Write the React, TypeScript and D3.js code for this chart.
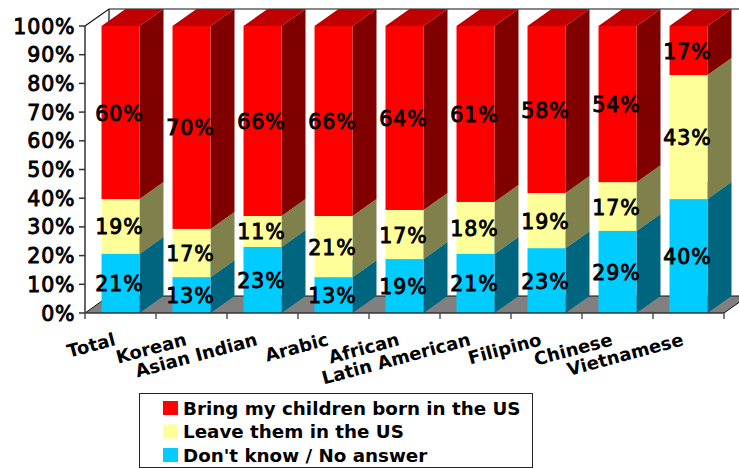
import React from 'react';
import * as d3 from 'd3';

const categories = ['Total', 'Korean', 'Asian Indian', 'Arabic', 'African', 'Latin American', 'Filipino', 'Chinese', 'Vietnamese'];

// bar heights, in percent
const dontKnow = [20.6, 12.5, 23, 12.5, 18.8, 20.6, 22.6, 28.6, 39.7];
const leave = [19.1, 16.8, 10.8, 21.3, 17.1, 18.1, 19.2, 17, 43.2];
const bring = [60.3, 70.7, 66.2, 66.2, 64.1, 61.3, 58.2, 54.4, 17.1];

// printed labels
const dontKnowLabels = [21, 13, 23, 13, 19, 21, 23, 29, 40];
const leaveLabels = [19, 17, 11, 21, 17, 18, 19, 17, 43];
const bringLabels = [60, 70, 66, 66, 64, 61, 58, 54, 17];

const yTicks = [0, 10, 20, 30, 40, 50, 60, 70, 80, 90, 100];

const legendItems = ['Bring my children born in the US', 'Leave them in the US', "Don't know / No answer"];

const width = 739;
const height = 468;
const depthX = 24;
const depthY = 17;
const font = '"DejaVu Sans", Verdana, sans-serif';

const series = [
  { key: 'dontKnow', values: dontKnow, labels: dontKnowLabels, front: '#00ccff', side: '#006680', top: '#00a3cc' },
  { key: 'leave', values: leave, labels: leaveLabels, front: '#ffff99', side: '#80804d', top: '#cccc7a' },
  { key: 'bring', values: bring, labels: bringLabels, front: '#ff0000', side: '#800000', top: '#c00000' },
];

// the percent labels are a semi-bold Verdana in the original
const percentText = {
  fontFamily: font,
  fontSize: 20.5,
  letterSpacing: 0.9,
  fill: '#000',
  stroke: '#000',
  strokeWidth: 0.9,
};

const App: React.FC = () => {
  const x = d3.scaleBand<string>().domain(categories).range([85, 724]).paddingInner(0.465).paddingOuter(0.2325);
  const y = d3.scaleLinear().domain([0, 100]).range([313, 26]);
  const step = x.step();
  const bw = x.bandwidth();

  const poly = d3.line();

  const stacks = categories.map((c, i) => {
    let base = 0;
    return series.map((s) => {
      const y0 = y(base);
      base += s.values[i];
      const y1 = y(base);
      return { cat: c, s, i, y0, y1, label: s.labels[i] };
    });
  });

  return (
    <svg width={width} height={height} style={{ position: 'absolute', left: 0, top: 0, background: '#fff' }}>
      {/* floor */}
      <path
        d={poly([[85, y(0)], [85 + depthX, y(0) - depthY], [724 + depthX, y(0) - depthY], [724, y(0)]])! + 'Z'}
        fill="#808080"
      />
      {/* back wall edges */}
      <path
        d={poly([[85, y(100)], [85 + depthX, y(100) - depthY], [width, y(100) - depthY]])!}
        fill="none"
        stroke="#111"
        strokeWidth={1.2}
      />
      <line x1={85 + depthX} x2={85 + depthX} y1={y(100) - depthY} y2={y(0) - depthY} stroke="#111" strokeWidth={1.2} />
      <line x1={85 + depthX} x2={width} y1={y(0) - depthY} y2={y(0) - depthY} stroke="#111" strokeWidth={1.2} />
      <line x1={85} x2={85 + depthX} y1={y(0)} y2={y(0) - depthY} stroke="#111" />
      <line x1={724} x2={724 + depthX} y1={y(0)} y2={y(0) - depthY} stroke="#111" />

      {/* bars */}
      {stacks.map((stack) =>
        stack.map((d) => {
          const x0 = x(d.cat)!;
          const x1 = x0 + bw;
          return (
            <g key={d.cat + d.s.key}>
              <path
                d={poly([[x1, d.y0], [x1 + depthX, d.y0 - depthY], [x1 + depthX, d.y1 - depthY], [x1, d.y1]])! + 'Z'}
                fill={d.s.side}
              />
              <path
                d={poly([[x0, d.y1], [x0 + depthX, d.y1 - depthY], [x1 + depthX, d.y1 - depthY], [x1, d.y1]])! + 'Z'}
                fill={d.s.top}
              />
              <rect x={x0} y={d.y1} width={bw} height={d.y0 - d.y1} fill={d.s.front} />
            </g>
          );
        })
      )}

      {/* axes */}
      <line x1={85} x2={85} y1={y(100)} y2={y(0)} stroke="#333" strokeWidth={1.5} />
      <line x1={85} x2={724} y1={y(0)} y2={y(0)} stroke="#333" strokeWidth={1.5} />
      {yTicks.map((t) => (
        <g key={t}>
          <line x1={79} x2={85} y1={y(t)} y2={y(t)} stroke="#333" strokeWidth={1.5} />
          <text x={75.5} y={y(t) + 7.5} textAnchor="end" {...percentText}>
            {t}%
          </text>
        </g>
      ))}
      {d3.range(categories.length + 1).map((i) => (
        <line key={i} x1={85 + i * step} x2={85 + i * step} y1={y(0)} y2={y(0) + 6} stroke="#555" strokeWidth={1.5} />
      ))}
      {categories.map((c) => (
        <text
          key={c}
          transform={`translate(${x(c)! + 15},345) rotate(-15)`}
          textAnchor="end"
          fontFamily={font}
          fontSize={18}
          fontWeight="bold"
          fill="#000"
        >
          {c}
        </text>
      ))}

      {/* data labels */}
      {stacks.map((stack) =>
        stack.map((d) => (
          <text
            key={'l' + d.cat + d.s.key}
            x={x(d.cat)! + bw / 2 - 1}
            y={(d.y0 + d.y1) / 2 + 8}
            textAnchor="middle"
            {...percentText}
          >
            {d.label}%
          </text>
        ))
      )}

      {/* legend */}
      <rect x={139.5} y={393.5} width={393} height={74} fill="#fff" stroke="#222" />
      {legendItems.map((item, i) => (
        <g key={item}>
          <rect
            x={163}
            y={401 + i * 23.5}
            width={15}
            height={14}
            fill={[series[2].front, series[1].front, series[0].front][i]}
          />
          <text x={183} y={414.5 + i * 23.5} fontFamily={font} fontSize={18.3} fontWeight="bold" fill="#000">
            {item}
          </text>
        </g>
      ))}
    </svg>
  );
};

export default App;
